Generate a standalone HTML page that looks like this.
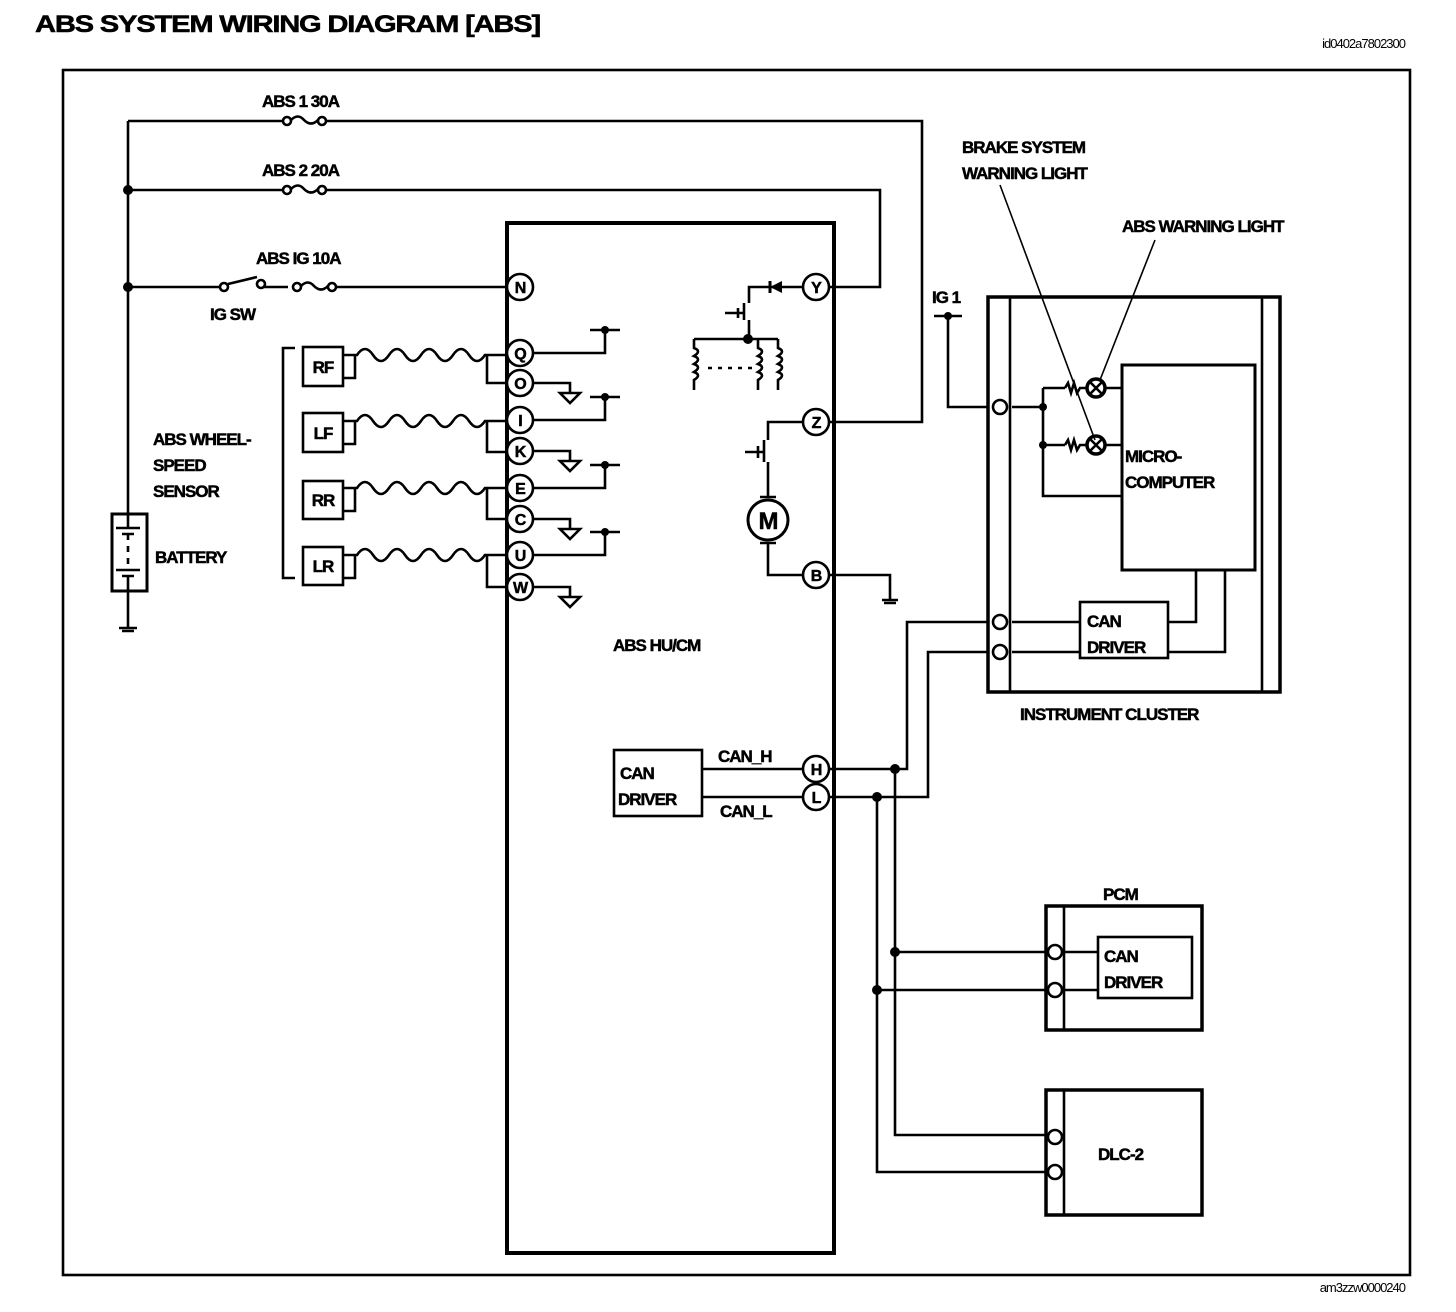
<!DOCTYPE html>
<html><head><meta charset="utf-8"><style>
html,body{margin:0;padding:0;background:#fff;}
svg{display:block;}
text{font-family:"Liberation Sans",Arial,sans-serif;font-weight:bold;fill:#000;letter-spacing:-1px;stroke:#000;stroke-width:0.5px;}
</style></head><body>
<svg width="1456" height="1312" viewBox="0 0 1456 1312" xmlns="http://www.w3.org/2000/svg">
<g fill="none" stroke="#000" stroke-width="2.6">
<rect x="63" y="70" width="1347" height="1205"/>
<line x1="128" y1="121" x2="128" y2="515"/>
<path d="M128 121 H284 M325 121 H922 V422 H828"/>
<path d="M128 190 H284 M325 190 H880 V287 H828"/>
<path d="M128 287 H220 M228 284 L257 277 M264 287 H288 M336 287 H507"/>
<circle cx="287" cy="121" r="4"/><circle cx="322" cy="121" r="4"/><path d="M291 120 q7 -7 13 0 q7 7 14 0"/>
<circle cx="287" cy="190" r="4"/><circle cx="322" cy="190" r="4"/><path d="M291 189 q7 -7 13 0 q7 7 14 0"/>
<circle cx="224" cy="287" r="4"/><circle cx="261" cy="284" r="4"/>
<circle cx="297" cy="287" r="4"/><circle cx="332" cy="287" r="4"/><path d="M301 286 q7 -7 13 0 q7 7 14 0"/>
<rect x="112" y="514" width="35" height="77" stroke-width="3"/>
<path d="M128 514 V528 M116 528 H140 M122 534 H134 M128 534 V540 M128 546 V552 M128 558 V564 M116 570 H140 M122 576 H134 M128 576 V628 M119 628 H137 M122 631 H134"/>
<rect x="507" y="223" width="327" height="1030" stroke-width="4"/>
<path d="M295 348 H283 V578 H295"/>
<rect x="303" y="347" width="40" height="39"/>
<rect x="303" y="413" width="40" height="39"/>
<rect x="303" y="481" width="40" height="38"/>
<rect x="303" y="547" width="40" height="38"/>
<path d="M343 355 H357 q8 -12 16 0 t16 0 t16 0 t16 0 t16 0 t16 0 t16 0 t16 0 H508 M343 378 H355 V355 M487 355 V383 H508"/>
<path d="M343 421 H357 q8 -12 16 0 t16 0 t16 0 t16 0 t16 0 t16 0 t16 0 t16 0 H508 M343 444 H355 V421 M487 421 V452 H508"/>
<path d="M343 488 H357 q8 -12 16 0 t16 0 t16 0 t16 0 t16 0 t16 0 t16 0 t16 0 H508 M343 511 H355 V488 M487 488 V519 H508"/>
<path d="M343 555 H357 q8 -12 16 0 t16 0 t16 0 t16 0 t16 0 t16 0 t16 0 t16 0 H508 M343 578 H355 V555 M487 555 V587 H508"/>
<path d="M532 353 H605 V330 M590 330 H620 M532 383 H570 V393"/>
<path d="M532 420 H605 V397 M590 397 H620 M532 451 H570 V461"/>
<path d="M532 488 H605 V465 M590 465 H620 M532 519 H570 V529"/>
<path d="M532 555 H605 V532 M590 532 H620 M532 587 H570 V597"/>
<path d="M560 393 H580 L570 403 Z M560 461 H580 L570 471 Z M560 529 H580 L570 539 Z M560 597 H580 L570 607 Z"/>
<g fill="#fff">
<circle cx="520" cy="287" r="13"/><circle cx="520" cy="353" r="13"/><circle cx="520" cy="383" r="13"/>
<circle cx="520" cy="420" r="13"/><circle cx="520" cy="451" r="13"/><circle cx="520" cy="488" r="13"/>
<circle cx="520" cy="519" r="13"/><circle cx="520" cy="555" r="13"/><circle cx="520" cy="587" r="13"/>
<circle cx="816" cy="287" r="13"/><circle cx="816" cy="422" r="13"/><circle cx="816" cy="575" r="13"/>
<circle cx="816" cy="769" r="13"/><circle cx="816" cy="797" r="13"/>
</g>
<path d="M803 287 H749 V303 M744 303 V320 M749 320 V339 M725 313 H744 M738 308 V318 M694 339 H778"/>
<path d="M694 339 V348 q8 3 0 8 q8 3 0 8 q8 3 0 8 q8 3 0 8 V390"/>
<path d="M758 339 V348 q8 3 0 8 q8 3 0 8 q8 3 0 8 q8 3 0 8 V390"/>
<path d="M778 339 V348 q8 3 0 8 q8 3 0 8 q8 3 0 8 q8 3 0 8 V390"/>
<path d="M708 368 H752" stroke-dasharray="4 6"/>
<path d="M770 281 V293" stroke-width="3"/>
<path d="M803 422 H768 V440 M764 440 V462 M768 462 V498 M745 452 H764 M758 446 V458"/>
<circle cx="768" cy="520" r="20" stroke-width="3"/>
<path d="M760 497 H776 M760 543 H776 M768 543 V575 H803 M829 575 H890 V600 M882 600 H898 M884 603 H896"/>
<rect x="614" y="750" width="88" height="66"/>
<path d="M702 769 H803 M702 797 H803"/>
<path d="M829 769 H907 V622 H988 M829 797 H928 V652 H988"/>
<path d="M895 769 V1135 H1046 M895 952 H1046 M877 797 V1172 H1046 M877 990 H1046"/>
<rect x="988" y="297" width="292" height="395" stroke-width="3.5"/>
<line x1="1010" y1="297" x2="1010" y2="692"/><line x1="1262" y1="297" x2="1262" y2="692"/>
<rect x="1122" y="365" width="133" height="205" stroke-width="3"/>
<rect x="1080" y="602" width="88" height="56"/>
<path d="M948 316 V407 H988 M934 316 H962 M1012 407 H1043 M1043 388 V496 H1122 M1043 388 H1065 M1043 445 H1065"/>
<path d="M1065 388 l3 -5 l3 10 l3 -10 l3 10 l3 -5 H1086 M1065 445 l3 -5 l3 10 l3 -10 l3 10 l3 -5 H1086"/>
<circle cx="1096" cy="388" r="9" stroke-width="3.5"/><circle cx="1096" cy="445" r="9" stroke-width="3.5"/>
<path d="M1090 382 L1102 394 M1102 382 L1090 394 M1090 439 L1102 451 M1102 439 L1090 451"/>
<path d="M1105 388 H1122 M1105 445 H1122 M1012 622 H1080 M1012 652 H1080 M1168 622 H1196 V570 M1168 652 H1225 V570"/>
<path d="M1000 185 L1095 440 M1155 240 L1100 380" stroke-width="1.6"/>
<circle cx="1000" cy="407" r="7" fill="#fff"/><circle cx="1000" cy="622" r="7" fill="#fff"/><circle cx="1000" cy="652" r="7" fill="#fff"/>
<rect x="1046" y="906" width="156" height="124" stroke-width="3.5"/>
<line x1="1064" y1="906" x2="1064" y2="1030"/>
<rect x="1098" y="937" width="94" height="61"/>
<path d="M1064 952 H1098 M1064 990 H1098"/>
<circle cx="1055" cy="952" r="7" fill="#fff"/><circle cx="1055" cy="990" r="7" fill="#fff"/>
<rect x="1046" y="1090" width="156" height="125" stroke-width="3.5"/>
<line x1="1064" y1="1090" x2="1064" y2="1215"/>
<circle cx="1055" cy="1137" r="7" fill="#fff"/><circle cx="1055" cy="1172" r="7" fill="#fff"/>
</g>
<g fill="#000">
<circle cx="128" cy="190" r="5"/><circle cx="128" cy="287" r="5"/>
<circle cx="605" cy="330" r="4"/><circle cx="605" cy="397" r="4"/><circle cx="605" cy="465" r="4"/><circle cx="605" cy="532" r="4"/>
<circle cx="748" cy="339" r="5"/><circle cx="948" cy="316" r="4"/>
<circle cx="1043" cy="407" r="4"/><circle cx="1043" cy="445" r="4"/>
<circle cx="895" cy="769" r="5"/><circle cx="877" cy="797" r="5"/><circle cx="895" cy="952" r="5"/><circle cx="877" cy="990" r="5"/>
<path d="M770 287 L782 281 V293 Z"/>
</g>
<text x="35" y="32" font-size="24" textLength="505" lengthAdjust="spacingAndGlyphs">ABS SYSTEM WIRING DIAGRAM [ABS]</text>
<text x="1405" y="48" font-size="13" text-anchor="end" style="font-weight:normal;stroke-width:0">id0402a7802300</text>
<text x="1405" y="1292" font-size="13" text-anchor="end" style="font-weight:normal;stroke-width:0">am3zzw0000240</text>
<text x="262" y="107" font-size="17">ABS 1 30A</text>
<text x="262" y="176" font-size="17">ABS 2 20A</text>
<text x="256" y="264" font-size="17">ABS IG 10A</text>
<text x="210" y="320" font-size="17">IG SW</text>
<text x="153" y="445" font-size="17">ABS WHEEL-</text>
<text x="153" y="471" font-size="17">SPEED</text>
<text x="153" y="497" font-size="17">SENSOR</text>
<text x="155" y="563" font-size="17">BATTERY</text>
<text x="323" y="373" font-size="17" text-anchor="middle">RF</text>
<text x="323" y="439" font-size="17" text-anchor="middle">LF</text>
<text x="323" y="506" font-size="17" text-anchor="middle">RR</text>
<text x="323" y="572" font-size="17" text-anchor="middle">LR</text>
<g font-size="16" text-anchor="middle">
<text x="520" y="293">N</text><text x="520" y="359">Q</text><text x="520" y="389">O</text><text x="520" y="426">I</text><text x="520" y="457">K</text><text x="520" y="494">E</text><text x="520" y="525">C</text><text x="520" y="561">U</text><text x="520" y="593">W</text>
<text x="816" y="293">Y</text><text x="816" y="428">Z</text><text x="816" y="581">B</text><text x="816" y="775">H</text><text x="816" y="803">L</text>
</g>
<text x="768" y="529" font-size="24" text-anchor="middle">M</text>
<text x="613" y="651" font-size="17">ABS  HU/CM</text>
<text x="620" y="779" font-size="17">CAN</text>
<text x="618" y="805" font-size="17">DRIVER</text>
<text x="718" y="762" font-size="17">CAN_H</text>
<text x="720" y="817" font-size="17">CAN_L</text>
<text x="932" y="303" font-size="17">IG 1</text>
<text x="962" y="153" font-size="17">BRAKE SYSTEM</text>
<text x="962" y="179" font-size="17">WARNING LIGHT</text>
<text x="1122" y="232" font-size="17">ABS WARNING LIGHT</text>
<text x="1125" y="462" font-size="17">MICRO-</text>
<text x="1125" y="488" font-size="17">COMPUTER</text>
<text x="1087" y="627" font-size="17">CAN</text>
<text x="1087" y="653" font-size="17">DRIVER</text>
<text x="1020" y="720" font-size="17">INSTRUMENT CLUSTER</text>
<text x="1103" y="900" font-size="17">PCM</text>
<text x="1104" y="962" font-size="17">CAN</text>
<text x="1104" y="988" font-size="17">DRIVER</text>
<text x="1098" y="1160" font-size="17">DLC-2</text>
</svg>
</body></html>
